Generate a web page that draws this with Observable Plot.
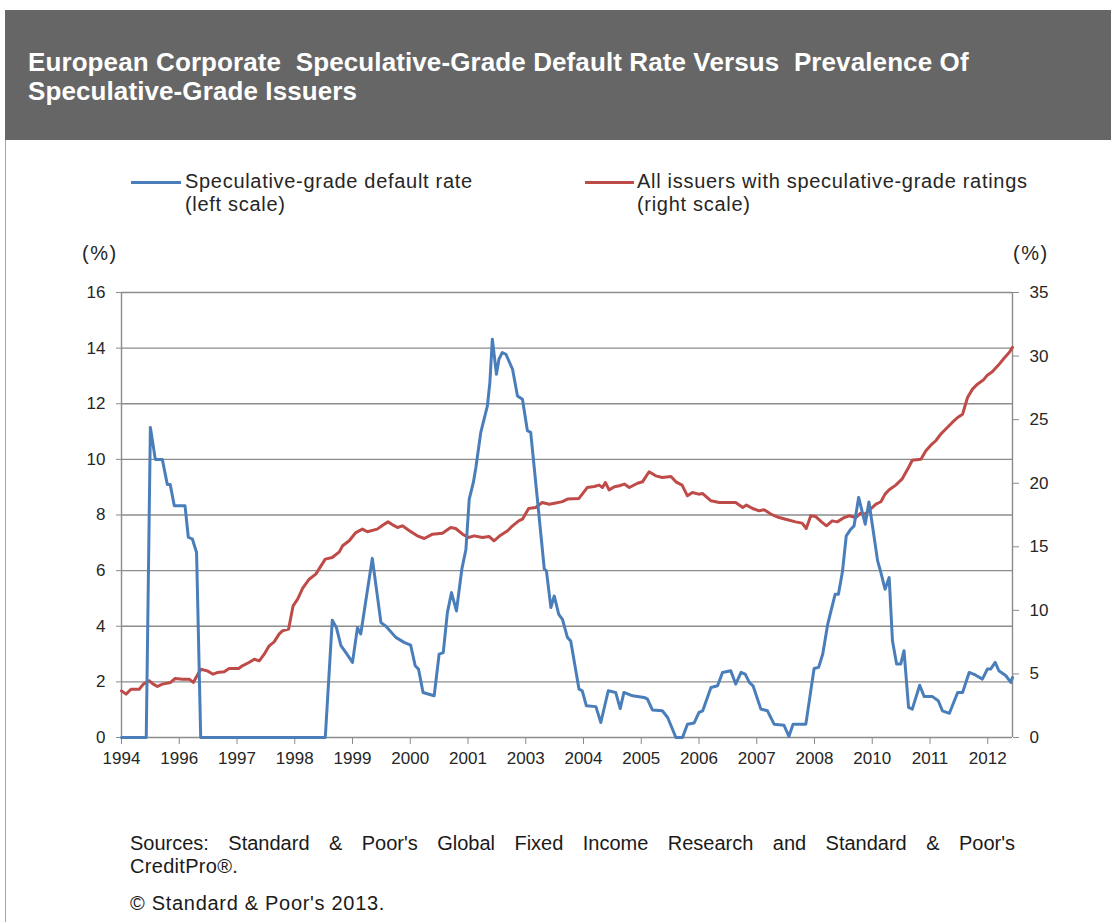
<!DOCTYPE html>
<html>
<head>
<meta charset="utf-8">
<script src="https://cdn.jsdelivr.net/npm/d3@7"></script>
<script src="https://cdn.jsdelivr.net/npm/@observablehq/plot@0.6"></script>
<style>
  html, body { margin: 0; padding: 0; background: #fff; }
  #page { position: relative; width: 1111px; height: 922px; overflow: hidden; font-family: "Liberation Sans", Arial, sans-serif; }
  #header { position: absolute; left: 5px; top: 10px; width: 1106px; height: 130px; background: #666666; }
  #title { position: absolute; left: 28px; top: 48px; color: #fff; font-weight: bold; font-size: 26px; letter-spacing: 0.1px; line-height: 29px; white-space: pre; }
  #border { position: absolute; left: 5px; top: 140px; width: 1px; height: 782px; background: #a6a6a6; }
  .sw { position: absolute; height: 3px; }
  .txt { position: absolute; color: #262626; font-size: 20px; letter-spacing: 0.7px; line-height: 23px; white-space: pre; }
  #chart { position: absolute; left: 0; top: 262px; }
  #src1 { position: absolute; left: 130px; top: 832px; width: 885px; font-size: 20px; line-height: 23px; color: #1a1a1a; text-align: justify; text-align-last: justify; }
</style>
</head>
<body>
<div id="page">
  <div id="header"></div>
  <div id="title">European Corporate  Speculative-Grade Default Rate Versus  Prevalence Of
Speculative-Grade Issuers</div>
  <div id="border"></div>

  <div class="sw" style="left:131px; top:181px; width:50px; background:#4a7ebb;"></div>
  <div class="txt" style="left:185px; top:170px;">Speculative-grade default rate
(left scale)</div>
  <div class="sw" style="left:585px; top:181px; width:49px; background:#be4b48;"></div>
  <div class="txt" style="left:637px; top:170px;">All issuers with speculative-grade ratings
(right scale)</div>

  <div class="txt" style="left:82px; top:242px; letter-spacing:1.5px;">(%)</div>
  <div class="txt" style="left:1013px; top:242px; letter-spacing:1.5px;">(%)</div>

  <div id="chart"></div>

  <div id="src1">Sources: Standard &amp; Poor's Global Fixed Income Research and Standard &amp; Poor's</div>
  <div class="txt" style="left:130px; top:855px; color:#1a1a1a; letter-spacing:0.3px;">CreditPro®.</div>
  <div class="txt" style="left:130px; top:892px; color:#1a1a1a;">© Standard &amp; Poor's 2013.</div>
</div>
<script>
// ---- Data (x = month index along the category axis, 14 months per labelled tick) ----
const xTickLabels = ["1994","1996","1997","1998","1999","2000","2001","2003","2004","2005","2006","2007","2008","2010","2011","2012"];
const monthsPerTick = 14;
const lastMonth = 216;
const leftTicks = [0, 2, 4, 6, 8, 10, 12, 14, 16];
const rightTicks = [0, 5, 10, 15, 20, 25, 30, 35];

// Speculative-grade default rate (left scale, %)
const defaultMonth = [0,6,7,8.2,9.9,11.1,11.8,12.8,15.4,16.2,17.2,18.2,19.2,49.4,51.1,52.1,53.2,54.4,56,57.2,58,60.8,62.9,64.1,66.5,68.5,70.1,71.2,72,73.1,75.8,77,78,79,80,81.2,82.5,83.5,84.3,85.3,85.9,87.1,88.7,89.3,89.9,90.9,91.5,92.3,93.2,94.8,96,97.2,98.4,99.2,100.9,102.5,103,104.1,104.9,106,106.9,108.1,108.9,110.9,111.7,112.7,115,116.2,118,119.8,120.9,121.8,123.9,126.7,127.5,128.7,131.1,132.4,134.4,136,137.2,138.8,140,140.9,142.9,144.5,145.7,147.7,148.9,150.2,151.2,152.2,153.1,155,156.6,158.2,160.6,161.8,162.8,165.9,167.9,169,170,171.2,172,173,173.8,174.8,175.7,176.8,177.6,178.7,180.3,181.2,182,183.3,184.1,185.1,186.1,186.9,187.9,188.9,189.7,190.8,191.7,193.5,194.6,196.6,198,199,200.7,202.7,203.9,205.5,207.1,208.7,209.9,210.7,211.8,212.7,214.4,215.6,216];
const defaultRate = [0,0,11.15,10.0,10.0,9.1,9.1,8.33,8.33,7.2,7.13,6.65,0,0,4.22,3.95,3.3,3.05,2.7,3.95,3.72,6.44,4.13,4.0,3.6,3.42,3.32,2.58,2.46,1.62,1.5,3.0,3.05,4.49,5.21,4.55,6.05,6.77,8.57,9.17,9.7,10.97,11.92,12.76,14.32,13.06,13.6,13.84,13.78,13.24,12.28,12.16,11.03,10.97,8.45,6.05,6.0,4.67,5.09,4.43,4.25,3.6,3.47,1.74,1.68,1.14,1.11,0.54,1.68,1.62,1.04,1.62,1.5,1.44,1.38,0.99,0.96,0.72,0,0,0.48,0.52,0.9,0.96,1.8,1.86,2.34,2.4,1.92,2.34,2.28,1.98,1.86,1.02,0.96,0.48,0.44,0.04,0.48,0.48,2.48,2.52,3.0,4.07,4.55,5.15,5.15,5.99,7.25,7.49,7.61,8.63,7.67,8.47,7.67,6.35,5.93,5.33,5.75,3.48,2.64,2.64,3.12,1.08,1.02,1.88,1.47,1.47,1.32,0.96,0.87,1.62,1.62,2.34,2.24,2.1,2.46,2.46,2.7,2.4,2.22,1.98,2.16];

// All issuers with speculative-grade ratings (right scale, %)
const issuerMonth = [0,1.1,2.3,4.3,5.3,6.7,7.7,8.7,9.9,11.9,13,14.8,16.4,17.4,19.2,20.8,22.2,23.2,24.9,26.1,28.4,29.3,30.9,32.2,33.4,34.6,35.8,37,38.2,39,40.5,41.6,42.7,43.9,45.5,47.1,49.4,51.1,52.8,53.6,55.2,56.8,58.4,59.6,62,63.3,64.6,65.9,66.9,68.1,69.8,71.7,73.4,75.4,77.8,79.8,81,82.7,84.1,85.5,87.5,89.1,90.3,91.9,93.6,94.8,96.3,97.2,98.7,100.4,102,103.7,105.3,106.9,108.1,110.9,112.9,114.6,115.8,116.6,117.3,118.2,119.5,120.7,121.9,123.1,125.1,126.3,127.9,129.5,131.1,133.2,134.4,135.9,137.2,138.4,139.9,140.9,142.9,144.9,148.9,150.6,151.5,153,154.6,155.8,157.4,159.4,161,163.4,165,166,167.1,168.3,169.7,170.9,172.3,173.5,175.2,176.4,178,179.2,180.3,181.7,182.9,184.1,185.1,186.1,187.7,189.2,190.6,191.7,193.8,195,196.2,197.4,198.6,200.2,201.4,202.7,203.9,205.1,206.3,207.5,208.9,209.9,211.1,212.6,213.9,215.2,216];
const issuerShare = [3.67,3.41,3.8,3.8,4.2,4.46,4.2,4.01,4.2,4.33,4.64,4.59,4.59,4.33,5.37,5.24,4.98,5.11,5.17,5.43,5.43,5.64,5.9,6.16,6.03,6.55,7.21,7.52,8.13,8.39,8.52,10.36,10.88,11.72,12.45,12.85,14.03,14.16,14.6,15.08,15.47,16.12,16.39,16.18,16.39,16.7,16.96,16.7,16.52,16.65,16.26,15.86,15.65,15.99,16.07,16.52,16.44,15.99,15.73,15.86,15.73,15.81,15.47,15.91,16.26,16.65,17.04,17.17,18.01,18.09,18.48,18.35,18.45,18.55,18.75,18.8,19.66,19.74,19.85,19.66,20.06,19.48,19.72,19.8,19.93,19.66,20.0,20.11,20.9,20.58,20.45,20.53,20.11,19.85,19.01,19.27,19.14,19.19,18.62,18.48,18.48,18.09,18.28,18.01,17.83,17.91,17.57,17.3,17.17,16.96,16.86,16.44,17.44,17.38,16.96,16.65,17.04,16.96,17.3,17.44,17.3,17.65,17.57,18.01,18.35,18.54,19.14,19.48,19.85,20.32,21.11,21.81,21.89,22.55,22.99,23.34,23.86,24.38,24.78,25.17,25.43,26.74,27.4,27.79,28.11,28.5,28.76,29.29,29.81,30.28,30.68];

// ---- Build tables ----
const defaultData = defaultMonth.map((m, k) => ({m, v: defaultRate[k]}));
const issuerData = issuerMonth.map((m, k) => ({m, v: issuerShare[k]}));
const xTicks = xTickLabels.map((_, k) => k * monthsPerTick);
const LEFT_MAX = 16, RIGHT_MAX = 35;
const toLeft = v => v * LEFT_MAX / RIGHT_MAX;
const axisGray = "#8c8c8c";
const textCol = "#262626";

const chart = Plot.plot({
  width: 1111,
  height: 520,
  marginLeft: 121,
  marginRight: 99,
  marginTop: 30,
  marginBottom: 45,
  x: {domain: [0, lastMonth], axis: null},
  y: {domain: [0, LEFT_MAX], axis: null},
  style: {fontFamily: "'Liberation Sans', Arial, sans-serif", fontSize: "17px", color: textCol, background: "transparent", overflow: "visible"},
  marks: [
    Plot.gridY(leftTicks, {stroke: axisGray, strokeOpacity: 1, strokeWidth: 1.4}),
    Plot.ruleX([0, lastMonth], {stroke: axisGray, strokeWidth: 1.4}),
    Plot.axisY(leftTicks, {anchor: "left", label: null, tickSize: 5, tickPadding: 11, stroke: axisGray, fill: textCol, tickFormat: d => String(d)}),
    Plot.axisY(rightTicks.map(toLeft), {anchor: "right", label: null, tickSize: 6, tickPadding: 11, stroke: axisGray, fill: textCol, tickFormat: d => String(Math.round(d * RIGHT_MAX / LEFT_MAX))}),
    Plot.axisX(xTicks, {anchor: "bottom", label: null, tickSize: 7, tickPadding: 7, stroke: axisGray, fill: textCol, tickFormat: d => xTickLabels[Math.round(d / monthsPerTick)]}),
    Plot.line(issuerData, {x: "m", y: d => toLeft(d.v), stroke: "#be4b48", strokeWidth: 3, strokeLinejoin: "round"}),
    Plot.line(defaultData, {x: "m", y: "v", stroke: "#4a7ebb", strokeWidth: 3, strokeLinejoin: "round"})
  ]
});
document.getElementById("chart").appendChild(chart);
</script>
</body>
</html>
